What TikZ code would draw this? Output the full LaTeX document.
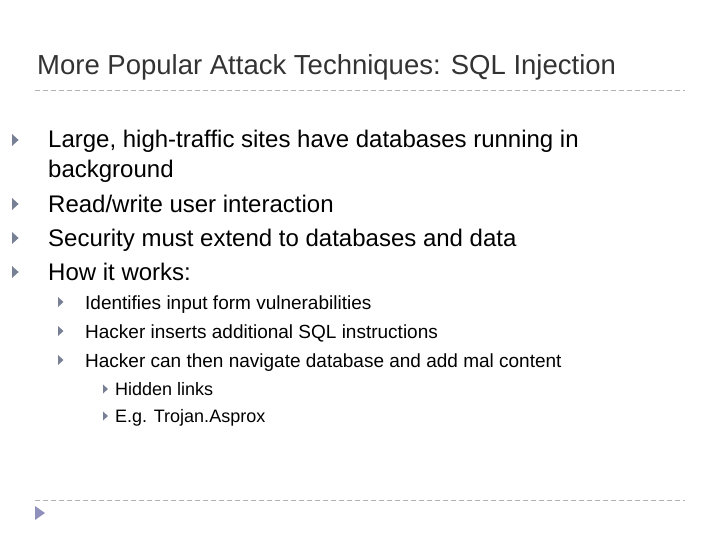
\documentclass[tikz,border=0pt]{standalone}
\usepackage{fontspec}
\setmainfont{Liberation Sans}
\begin{document}
\begin{tikzpicture}[x=1pt,y=-1pt,
  tx/.style={anchor=base west,inner sep=0pt},
  tA/.style={tx,font=\fontsize{24}{28}\selectfont},
  tB/.style={tx,font=\fontsize{19}{22}\selectfont},
  tC/.style={tx,font=\fontsize{18}{21}\selectfont},
  dl/.style={draw=gray!60,dash pattern=on 5pt off 3pt,line width=0.8pt}]
\useasboundingbox (0,0) rectangle (720,540);
\definecolor{bulc}{RGB}{120,128,150}
\newcommand\bul[3]{\fill[bulc] (#1,#2-#3) -- (#1+#3*1.1,#2) -- (#1,#2+#3) -- cycle;}
\node[tx,font=\fontsize{27.5}{32}\selectfont,text=black!80] (title) at (37,75) {More Popular Attack Techniques: SQL Injection};
\coordinate (l1) at (35,90); \coordinate (r1) at (685,90);
\draw[dl] (l1) -- (r1);
\coordinate (l2) at (35,500); \coordinate (r2) at (685,500);
\draw[dl] (l2) -- (r2);
\fill[blue!25!gray!70] (35,506) -- (45,513) -- (35,520) -- cycle;
\bul{12}{140}{6}
\node[tA] (a1) at (48,148) {Large, high-traffic sites have databases running in};
\node[tA] (a1b) at (48,178) {background};
\bul{12}{204}{6}
\node[tA] (a2) at (48,212) {Read/write user interaction};
\bul{12}{238}{6}
\node[tA] (a3) at (48,246) {Security must extend to databases and data};
\bul{12}{272}{6}
\node[tA] (a4) at (48,280) {How it works:};
\bul{58}{302}{5}
\node[tB] (b1) at (85,309) {Identifies input form vulnerabilities};
\bul{58}{331}{5}
\node[tB] (b2) at (85,338) {Hacker inserts additional SQL instructions};
\bul{58}{360}{5}
\node[tB] (b3) at (85,367) {Hacker can then navigate database and add mal content};
\bul{103}{389}{4.5}
\node[tC] (c1) at (115,395) {Hidden links};
\bul{103}{416}{4.5}
\node[tC] (c2) at (115,422) {E.g. Trojan.Asprox};
\end{tikzpicture}
\end{document}
